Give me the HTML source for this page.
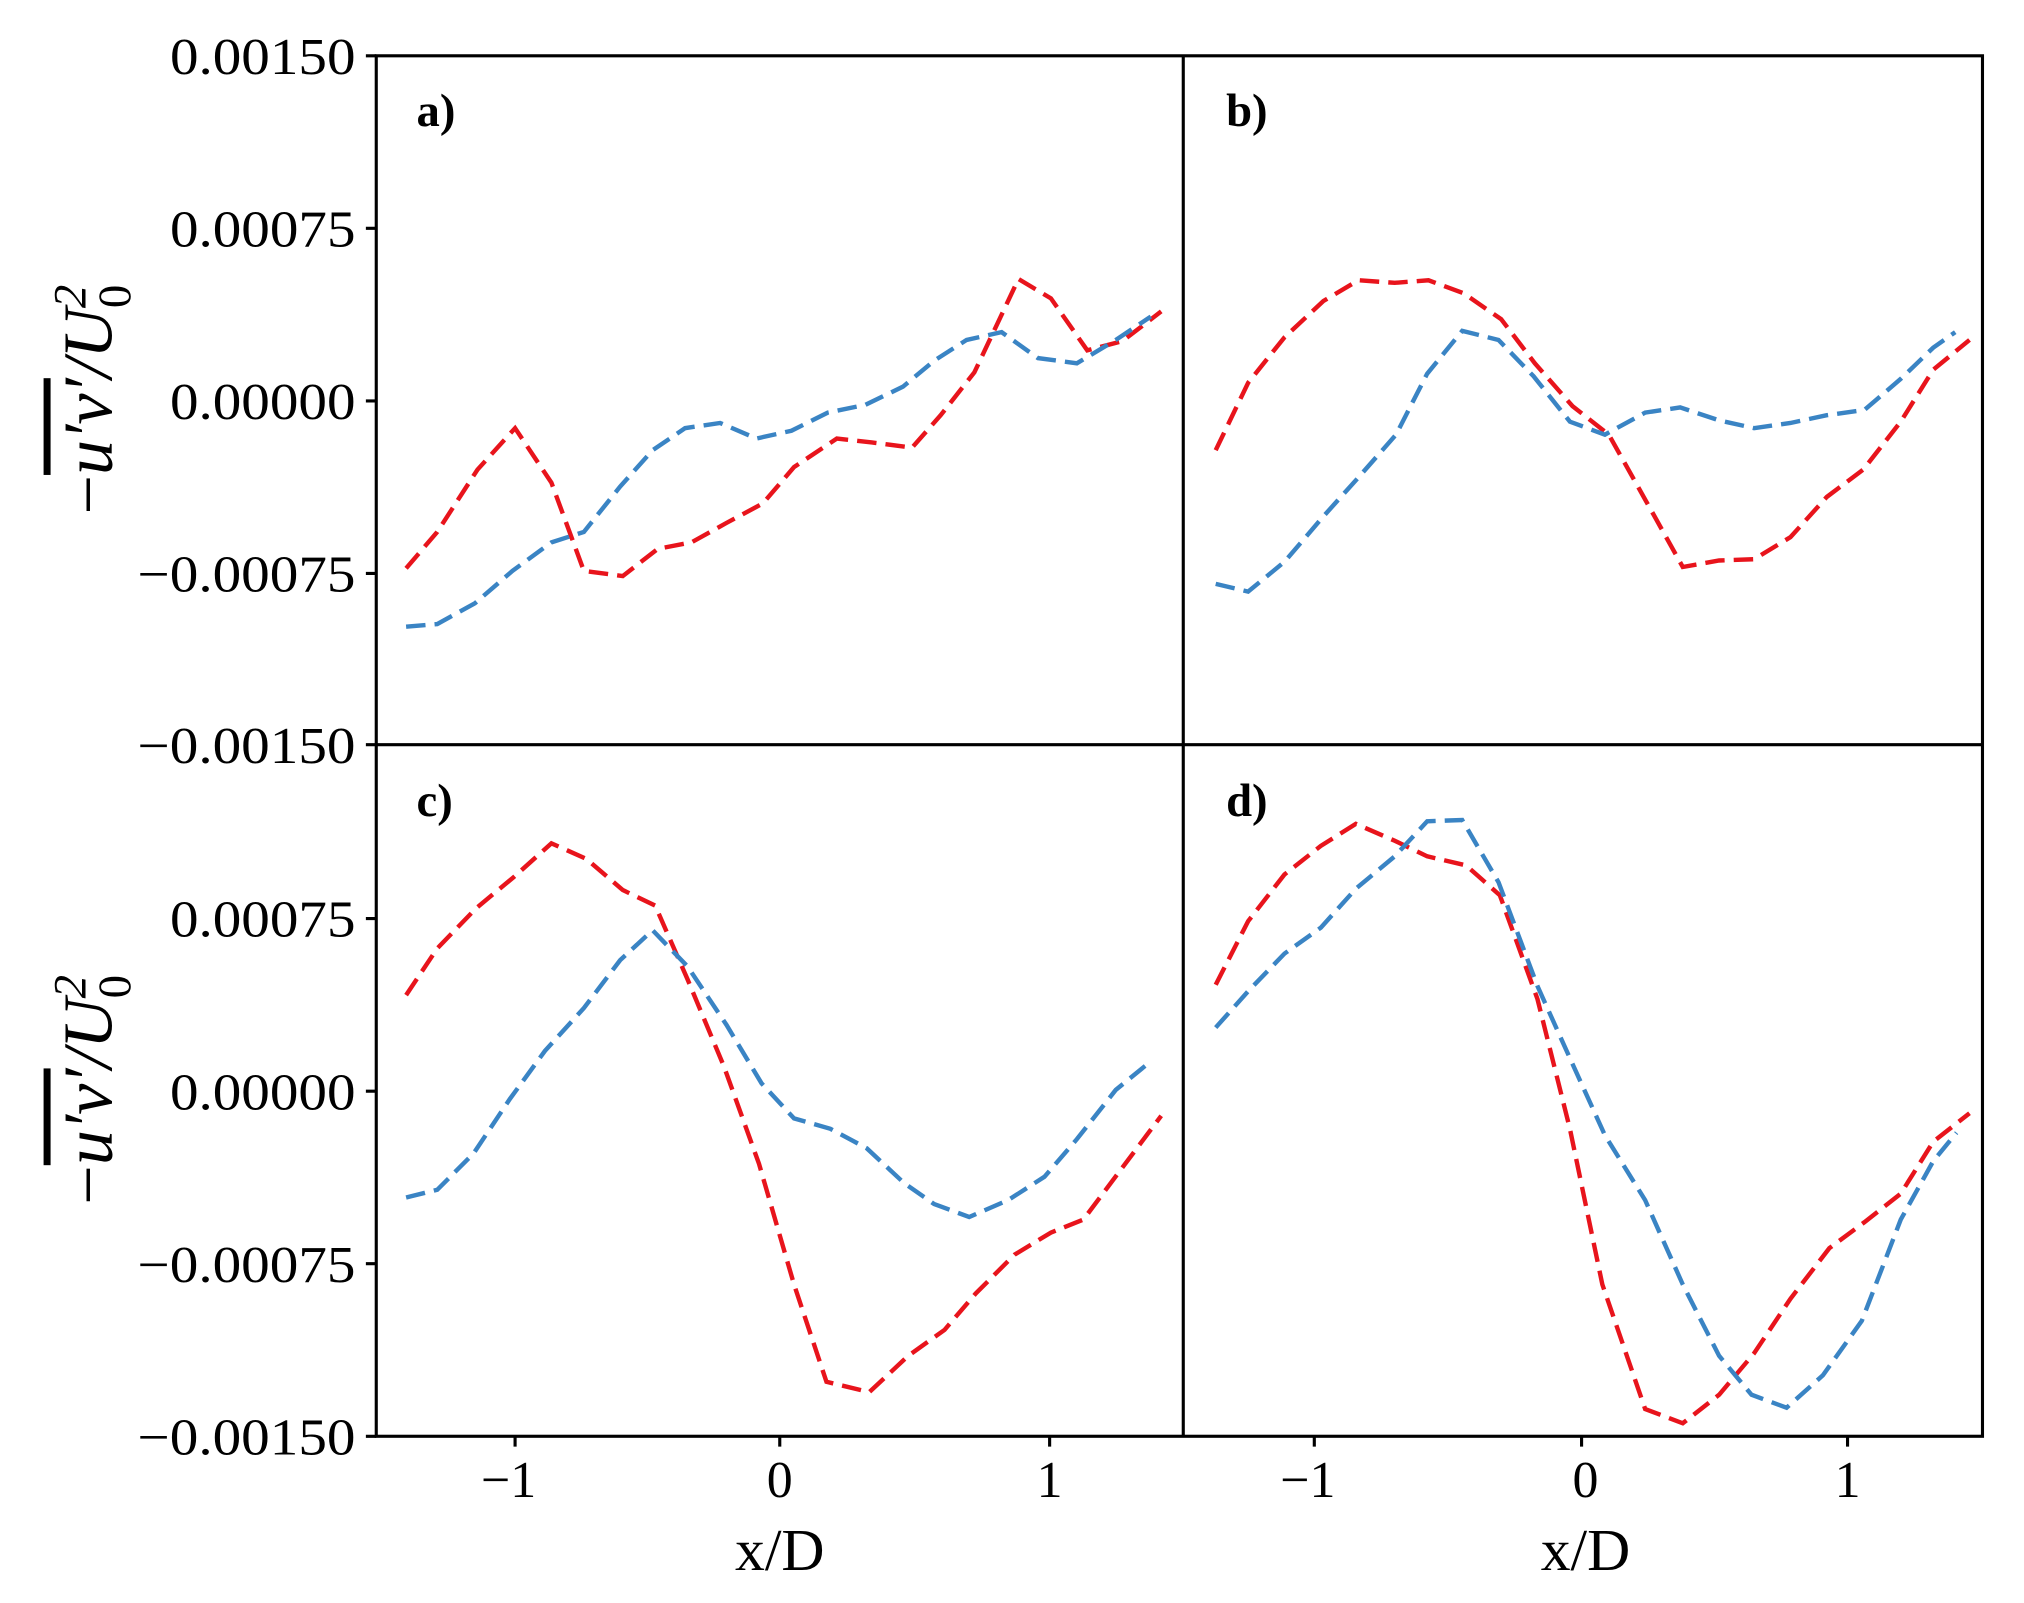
<!DOCTYPE html>
<html><head><meta charset="utf-8"><style>html,body{margin:0;padding:0;background:#fff}svg{display:block}</style></head>
<body>
<svg width="2024" height="1603" viewBox="0 0 1560 1235.5" xmlns="http://www.w3.org/2000/svg" font-family="Liberation Serif, serif">
<rect width="1560" height="1236" fill="#fff"/>
<g fill="none" stroke-width="3.4" stroke-dasharray="15,7">
<polyline stroke="#e8141c" points="313,438 337,410 368,362 397,330 425,372 450,440 480,444 507,423 533,418 560,403 588,388 612,360 645,338 672,341 703,345 725,320 751,287 785,215 810,230 838,270 865,263 895,240"/>
<polyline stroke="#3a84c4" points="313,483 337,481 366,465 395,440 425,418 450,410 478,375 503,347 528,330 555,326 583,338 610,332 638,318 667,312 696,298 720,278 745,262 772,256 800,276 830,280 860,262 887,244"/>
<polyline stroke="#e8141c" points="937,347 962,295 990,260 1020,232 1047,216 1075,218 1101,216 1128,226 1157,246 1183,280 1212,313 1240,335 1268,385 1297,437 1325,432 1352,431 1380,414 1408,383 1436,362 1465,325 1490,285 1518,262"/>
<polyline stroke="#3a84c4" points="937,450 962,456 990,433 1020,398 1047,368 1076,335 1100,288 1127,255 1155,262 1182,290 1210,325 1237,335 1268,318 1295,314 1325,324 1352,330 1380,326 1408,320 1437,316 1465,292 1490,268 1507,256"/>
<polyline stroke="#e8141c" points="313,767 337,731 367,700 396,676 425,650 452,662 480,686 505,698 530,755 558,822 585,897 612,990 637,1065 670,1073 700,1045 728,1025 752,997 782,967 810,950 835,940 865,900 895,860"/>
<polyline stroke="#3a84c4" points="313,923 337,917 365,889 393,847 420,810 450,777 478,740 503,717 530,745 560,790 587,835 612,862 640,870 668,885 697,912 720,928 747,938 777,925 805,907 830,878 860,840 887,818"/>
<polyline stroke="#e8141c" points="937,759 962,710 990,674 1018,652 1045,635 1075,648 1100,660 1130,667 1156,690 1185,770 1210,870 1235,990 1268,1086 1297,1097 1325,1075 1352,1043 1380,1001 1410,962 1437,942 1465,920 1490,880 1518,858"/>
<polyline stroke="#3a84c4" points="937,792 962,764 990,735 1018,715 1045,685 1075,660 1100,633 1127,632 1155,680 1185,760 1212,820 1237,875 1268,925 1297,990 1325,1045 1350,1075 1377,1085 1405,1060 1435,1018 1465,940 1490,895 1508,873"/>
</g>
<g stroke="#000" stroke-width="2.4" fill="none">
<rect x="290" y="43" width="1238" height="1064"/>
<line x1="912" y1="43" x2="912" y2="1107"/>
<line x1="290" y1="574" x2="1528" y2="574"/>
<path d="M282,43H290M282,176H290M282,309H290M282,442H290M282,574H290M282,708H290M282,841H290M282,974H290M282,1107H290"/>
<path d="M397,1107V1115M601,1107V1115M809,1107V1115M1013,1107V1115M1219,1107V1115M1424,1107V1115"/>
</g>
<g font-size="40" text-anchor="end" fill="#000">
<text x="274" y="57" textLength="143" lengthAdjust="spacingAndGlyphs">0.00150</text>
<text x="274" y="190" textLength="143" lengthAdjust="spacingAndGlyphs">0.00075</text>
<text x="274" y="323" textLength="143" lengthAdjust="spacingAndGlyphs">0.00000</text>
<text x="274" y="456" textLength="168" lengthAdjust="spacingAndGlyphs">−0.00075</text>
<text x="274" y="588" textLength="168" lengthAdjust="spacingAndGlyphs">−0.00150</text>
<text x="274" y="722" textLength="143" lengthAdjust="spacingAndGlyphs">0.00075</text>
<text x="274" y="855" textLength="143" lengthAdjust="spacingAndGlyphs">0.00000</text>
<text x="274" y="988" textLength="168" lengthAdjust="spacingAndGlyphs">−0.00075</text>
<text x="274" y="1121" textLength="168" lengthAdjust="spacingAndGlyphs">−0.00150</text>
</g>
<g font-size="40" text-anchor="middle" fill="#000">
<text x="392" y="1154">−1</text><text x="601" y="1154">0</text><text x="809" y="1154">1</text>
<text x="1008" y="1154">−1</text><text x="1222" y="1154">0</text><text x="1424" y="1154">1</text>
<text x="601" y="1210" font-size="46">x/D</text>
<text x="1222" y="1210" font-size="46">x/D</text>
</g>
<g font-size="36" font-weight="bold" fill="#000">
<text x="321" y="97">a)</text><text x="945" y="97">b)</text>
<text x="321" y="629">c)</text><text x="945" y="629">d)</text>
</g>
<g font-size="54" font-style="italic" fill="#000" text-anchor="middle">
<text transform="translate(86,308) rotate(-90)"><tspan font-style="normal">−</tspan><tspan text-decoration="overline">u′v′</tspan>/U<tspan font-size="36" dy="-20">2</tspan><tspan font-size="36" dx="-18" dy="34" font-style="normal">0</tspan></text>
<text transform="translate(86,840) rotate(-90)"><tspan font-style="normal">−</tspan><tspan text-decoration="overline">u′v′</tspan>/U<tspan font-size="36" dy="-20">2</tspan><tspan font-size="36" dx="-18" dy="34" font-style="normal">0</tspan></text>
</g>
</svg>
</body></html>
